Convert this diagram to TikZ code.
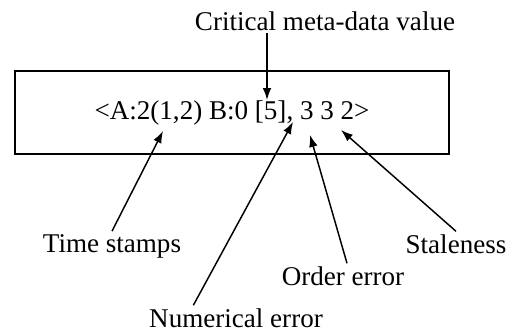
\documentclass[tikz,border=0pt]{standalone}
\usepackage{fontspec}
\setmainfont{Liberation Serif}
\usetikzlibrary{arrows.meta}
\tikzset{ >={Latex[length=9pt,width=6.5pt]} }
\tikzset{
	label/.style={anchor=base, inner sep=2pt, font=\fontsize{20.3}{24}\selectfont},
	record/.style={draw, line width=1.5pt, minimum width=325.5pt, minimum height=62.25pt,
		inner sep=0pt, font=\fontsize{20.3}{24}\selectfont},
	pointer/.style={->, line width=1.1pt}
}
\begin{document}
\begin{tikzpicture}[x=0.75pt,y=-0.75pt]
	\useasboundingbox (0,0) rectangle (517,333);	% Keep the page size
	% The record with its meta-data
	\node[record] (rec) at (232,112.5) {\raisebox{-2.5pt}{<A:2(1,2) B:0 [5], 3 3 2>}};
	% Labels round the record
	\node[label] (cm) at (325,30)  {Critical meta-data value};
	\node[label] (ts) at (112,252) {Time stamps};
	\node[label] (st) at (456,253) {Staleness};
	\node[label] (oe) at (343,285) {Order error};
	\node[label] (ne) at (236,327) {Numerical error};
	% Where the arrows point
	\coordinate (cmTip) at (267,100);
	\coordinate (tsTip) at (163,131);
	\coordinate (neTip) at (293,122);
	\coordinate (oeTip) at (310,135);
	\coordinate (stTip) at (341,130);
	% Arrows
	\draw[pointer] ([xshift=-43.5pt]cm.south) -- (cmTip);
	\draw[pointer] (ts.north) -- (tsTip);
	\draw[pointer] ([xshift=-32pt]ne.north) -- (neTip);
	\draw[pointer] ([xshift=3pt]oe.north) -- (oeTip);
	\draw[pointer] (st.north) -- (stTip);
\end{tikzpicture}
\end{document}
